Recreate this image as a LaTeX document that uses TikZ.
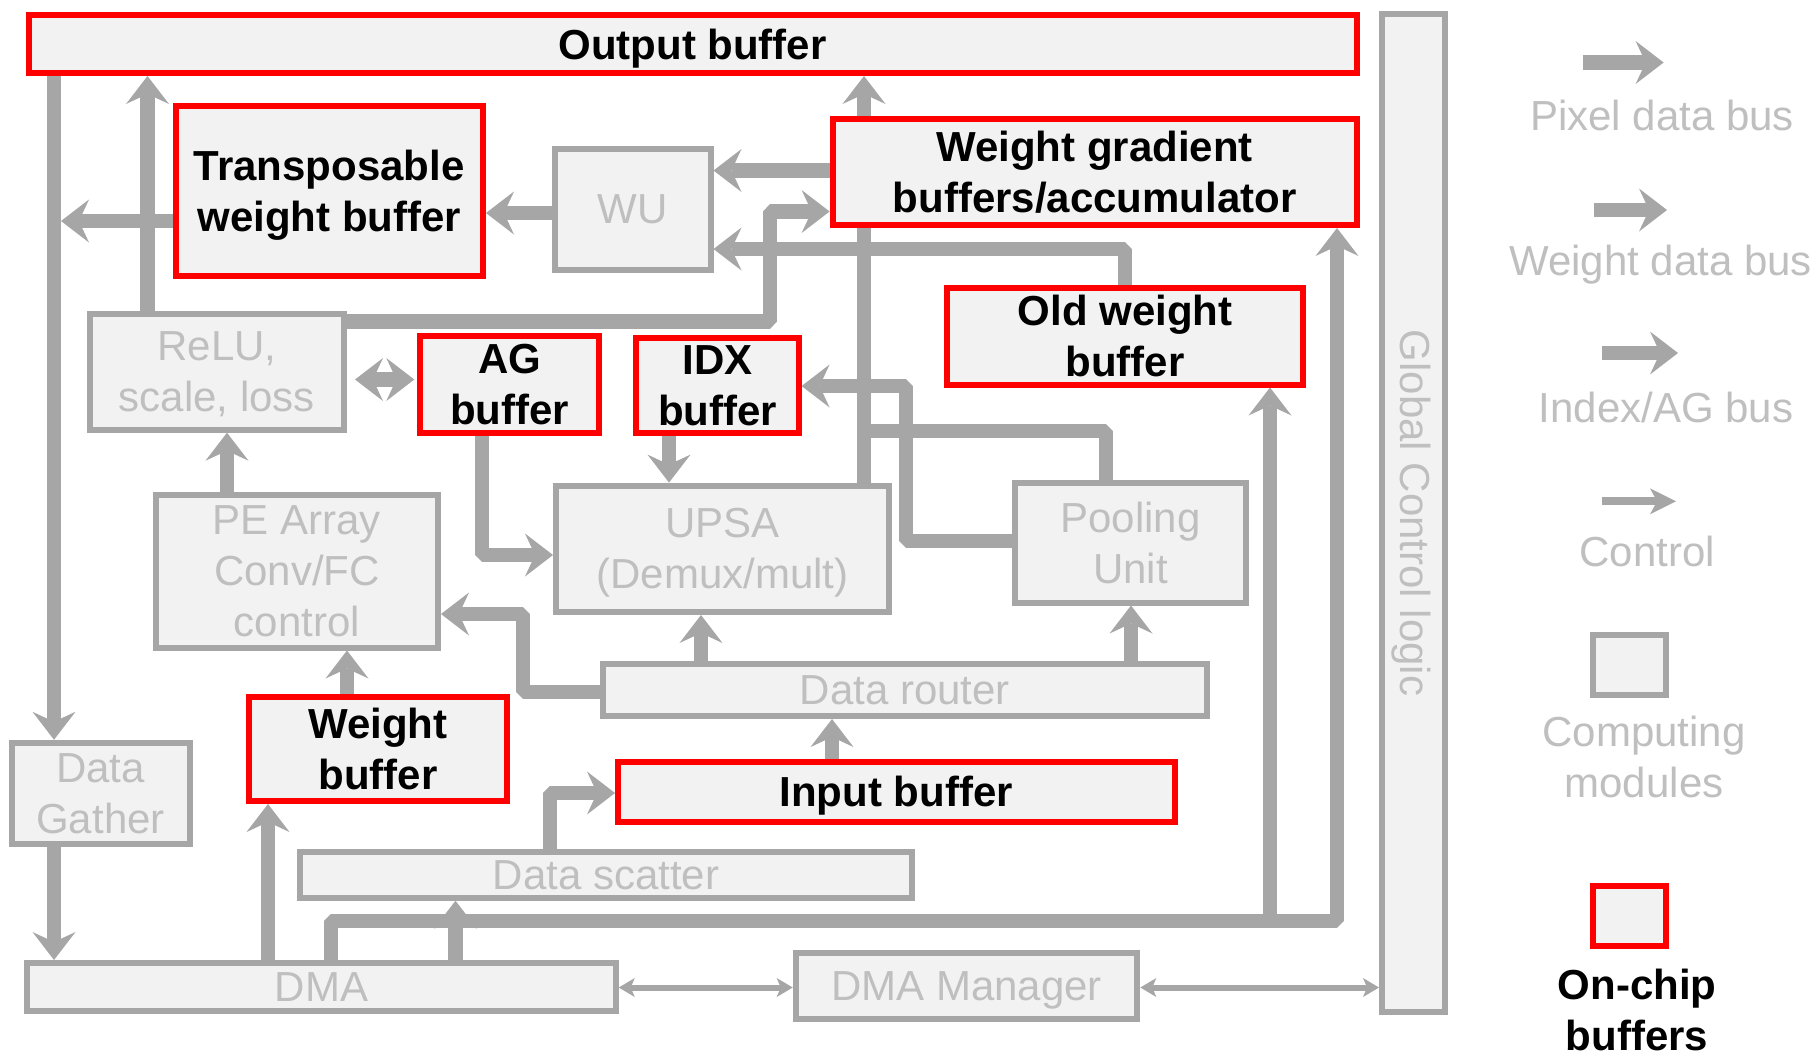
\documentclass[tikz,border=0pt]{standalone}
\usepackage{fontspec}
\setmainfont{Liberation Sans}
\usetikzlibrary{arrows.meta}
\definecolor{wiregray}{HTML}{A6A6A6}
\definecolor{panelfill}{HTML}{F2F2F2}
\definecolor{softtext}{HTML}{BFBFBF}
\definecolor{bufred}{HTML}{FF0000}
\pgfdeclarelayer{canvas}
\pgfdeclarelayer{wires}
\pgfsetlayers{canvas,wires,main}
\begin{document}
\begin{tikzpicture}[x=0.5pt, y=-0.5pt,
  lbl/.style={font=\fontsize{21pt}{25.5pt}\selectfont, align=center, text depth=0pt},
  sz/.style 2 args={minimum width={#1*0.5pt}, minimum height={#2*0.5pt}},
  module/.style={lbl, draw=wiregray, fill=panelfill, line width=3pt, inner sep=0pt, text=softtext},
  onchip/.style={lbl, font=\fontsize{21pt}{25.5pt}\selectfont\bfseries, draw=bufred, fill=panelfill, line width=3pt, inner sep=0pt, text=black},
  bus/.style={draw=wiregray, line width=7.25pt, line join=bevel,
    >={Stealth[length=14pt, width=21.5pt, inset=5pt, line width=0pt]}},
  ctrl/.style={draw=wiregray, line width=3pt,
    >={Stealth[length=8pt, width=9.5pt, inset=2pt, line width=0pt]}},
  ctrlkey/.style={draw=wiregray, line width=4pt,
    >={Stealth[length=13pt, width=13pt, inset=3.5pt, line width=0pt]}},
  legtext/.style={lbl, text=softtext, inner sep=0pt},
]
\begin{pgfonlayer}{canvas}
\fill[white] (0,0) rectangle (1819,1057);
\end{pgfonlayer}
\useasboundingbox (0,0) rectangle (1819,1057);

% ---- blocks ----
\node[onchip, sz={1328}{58}]       (outbuf)  at (692.5,44)    {Output buffer};
\node[module, sz={62.5}{998}]      (gcl)     at (1413.25,513) {};
\node[lbl, text=softtext, rotate=-90] (gcltext) at ([xshift=1pt]gcl.center) {Global Control logic};
\node[onchip, sz={307.5}{170}]     (trans)   at (329.25,190.5) {Transposable\\weight buffer};
\node[module, sz={155.5}{120.6}]   (wu)      at (632.75,209.3) {WU};
\node[onchip, sz={524}{106}]       (wgb)     at (1094.6,172)  {Weight gradient\\buffers/accumulator};
\node[onchip, sz={356}{96.5}]      (oldw)    at (1125,336.25) {Old weight\\buffer};
\node[module, sz={254}{115.7}]     (relu)    at (217,371.85)  {ReLU,\\scale, loss};
\node[onchip, sz={178.7}{97}]      (ag)      at (509.65,384.5) {AG\\buffer};
\node[onchip, sz={162.2}{95}]      (idx)     at (717.5,385.5) {IDX\\buffer};
\node[module, sz={282}{153}]       (pe)      at (297,571)     {PE Array\\Conv/FC\\control};
\node[module, sz={333}{126.4}]     (upsa)    at (722.5,548.8) {UPSA\\(Demux/mult)};
\node[module, sz={231.8}{119.5}]   (pool)    at (1130.5,542.75) {Pooling\\Unit};
\node[module, sz={604.3}{52}]      (router)  at (904.85,690)  {Data router};
\node[onchip, sz={258}{104}]       (wbuf)    at (378,749)     {Weight\\buffer};
\node[onchip, sz={556.5}{60.2}]    (input)   at (896.25,791.7) {Input buffer};
\node[module, sz={178}{101.5}]     (gather)  at (100.5,793.5) {Data\\Gather};
\node[module, sz={612}{45.7}]      (scatter) at (606,874.85)  {Data scatter};
\node[module, sz={588.7}{47.6}]    (dma)     at (321.4,986.8) {DMA};
\node[module, sz={341.6}{66}]      (dmam)    at (966.5,986)   {DMA Manager};

% ---- junction points on shared buses ----
\coordinate (gatherbus) at (61,221);
\coordinate (outbus)    at (864,431);
\coordinate (dmabus)    at (1270,921);

% ---- data paths ----
\begin{pgfonlayer}{wires}
\draw[bus,->] (outbuf.south -| 54,0) -- (gather.north -| 54,0);
\draw[bus,->] (relu.north -| 147.5,0) -- (outbuf.south -| 147.5,0);
\draw[bus,->] (trans.west |- 0,221) -- (gatherbus);
\draw[bus,->] (wu.west |- 0,213) -- (trans.east |- 0,213);
\draw[bus,->] (wgb.west |- 0,170.5) -- (wu.east |- 0,170.5);
\draw[bus,->] (relu.east |- 0,321.5) -| (770,211.5) -- (wgb.west |- 0,211.5);
\draw[bus,->] (oldw.north -| 1125,0) |- (wu.east |- 0,249);
\draw[bus,->] (upsa.north -| 864,0) -- (outbuf.south -| 864,0);
\draw[bus] (pool.north -| 1106,0) |- (outbus);
\draw[bus,->] (pool.west |- 0,541) -| (906,386) -- (idx.east |- 0,386);
\draw[bus,->] (ag.south -| 482,0) |- (upsa.west |- 0,555);
\draw[bus,->] (idx.south -| 669,0) -- (upsa.north -| 669,0);
\draw[bus,<->] ([xshift=4pt]relu.east |- 0,379.5) -- ([xshift=-1.5pt]ag.west |- 0,379.5);
\draw[bus,->] (pe.north -| 227,0) -- (relu.south -| 227,0);
\draw[bus,->] (router.west |- 0,692) -| (523,614) -- (pe.east |- 0,614);
\draw[bus,->] (router.north -| 701,0) -- (upsa.south -| 701,0);
\draw[bus,->] (router.north -| 1131,0) -- (pool.south -| 1131,0);
\draw[bus,->] (input.north -| 832,0) -- (router.south -| 832,0);
\draw[bus,->] (wbuf.north -| 347,0) -- (pe.south -| 347,0);
\draw[bus,->] (gather.south -| 54,0) -- (dma.north -| 54,0);
\draw[bus,->] (dma.north -| 268,0) -- (wbuf.south -| 268,0);
\draw[bus,->] (scatter.north -| 550,0) |- (input.west |- 0,793);
\draw[bus,->] (dma.north -| 455.5,0) -- (scatter.south -| 455.5,0);
\draw[bus,->] (dma.north -| 331,0) |- (1337,921) -- (wgb.south -| 1337,0);
\draw[bus,->] (dmabus) -- (oldw.south -| 1270,0);
\draw[ctrl,<->] (dma.east |- 0,987.5) -- (dmam.west |- 0,987.5);
\draw[ctrl,<->] (dmam.east |- 0,987.5) -- (gcl.west |- 0,987.5);
\end{pgfonlayer}

% ---- legend ----
\coordinate (kpix0) at (1582.5,62.5);  \coordinate (kpix1) at (1663.6,62.5);
\coordinate (kwgt0) at (1593.5,210);   \coordinate (kwgt1) at (1667,210);
\coordinate (kidx0) at (1602,353);     \coordinate (kidx1) at (1678,353);
\coordinate (kctl0) at (1601.7,501.3); \coordinate (kctl1) at (1676,501.3);
\draw[bus,->] (kpix0) -- (kpix1);
\draw[bus,->] (kwgt0) -- (kwgt1);
\draw[bus,->] (kidx0) -- (kidx1);
\draw[ctrlkey,->] (kctl0) -- (kctl1);
\node[legtext, anchor=base] (kpixt) at (1662,130.5) {Pixel data bus};
\node[legtext, anchor=base] (kwgtt) at (1660.5,275.7) {Weight data bus};
\node[legtext, anchor=base] (kidxt) at (1666,422.7) {Index/AG bus};
\node[legtext, anchor=base] (kctlt) at (1647,566.7) {Control};
\node[module, sz={73}{60.3}] (kmod) at (1629,664.85) {};
\node[legtext] (kmodt) at (1644,756.5) {Computing\\modules};
\node[onchip, sz={73}{60}] (kbuf) at (1629,916) {};
\node[lbl, font=\fontsize{21pt}{25.5pt}\selectfont\bfseries, inner sep=0pt] (kbuft) at (1637,1010) {On-chip\\buffers};
\end{tikzpicture}
\end{document}
